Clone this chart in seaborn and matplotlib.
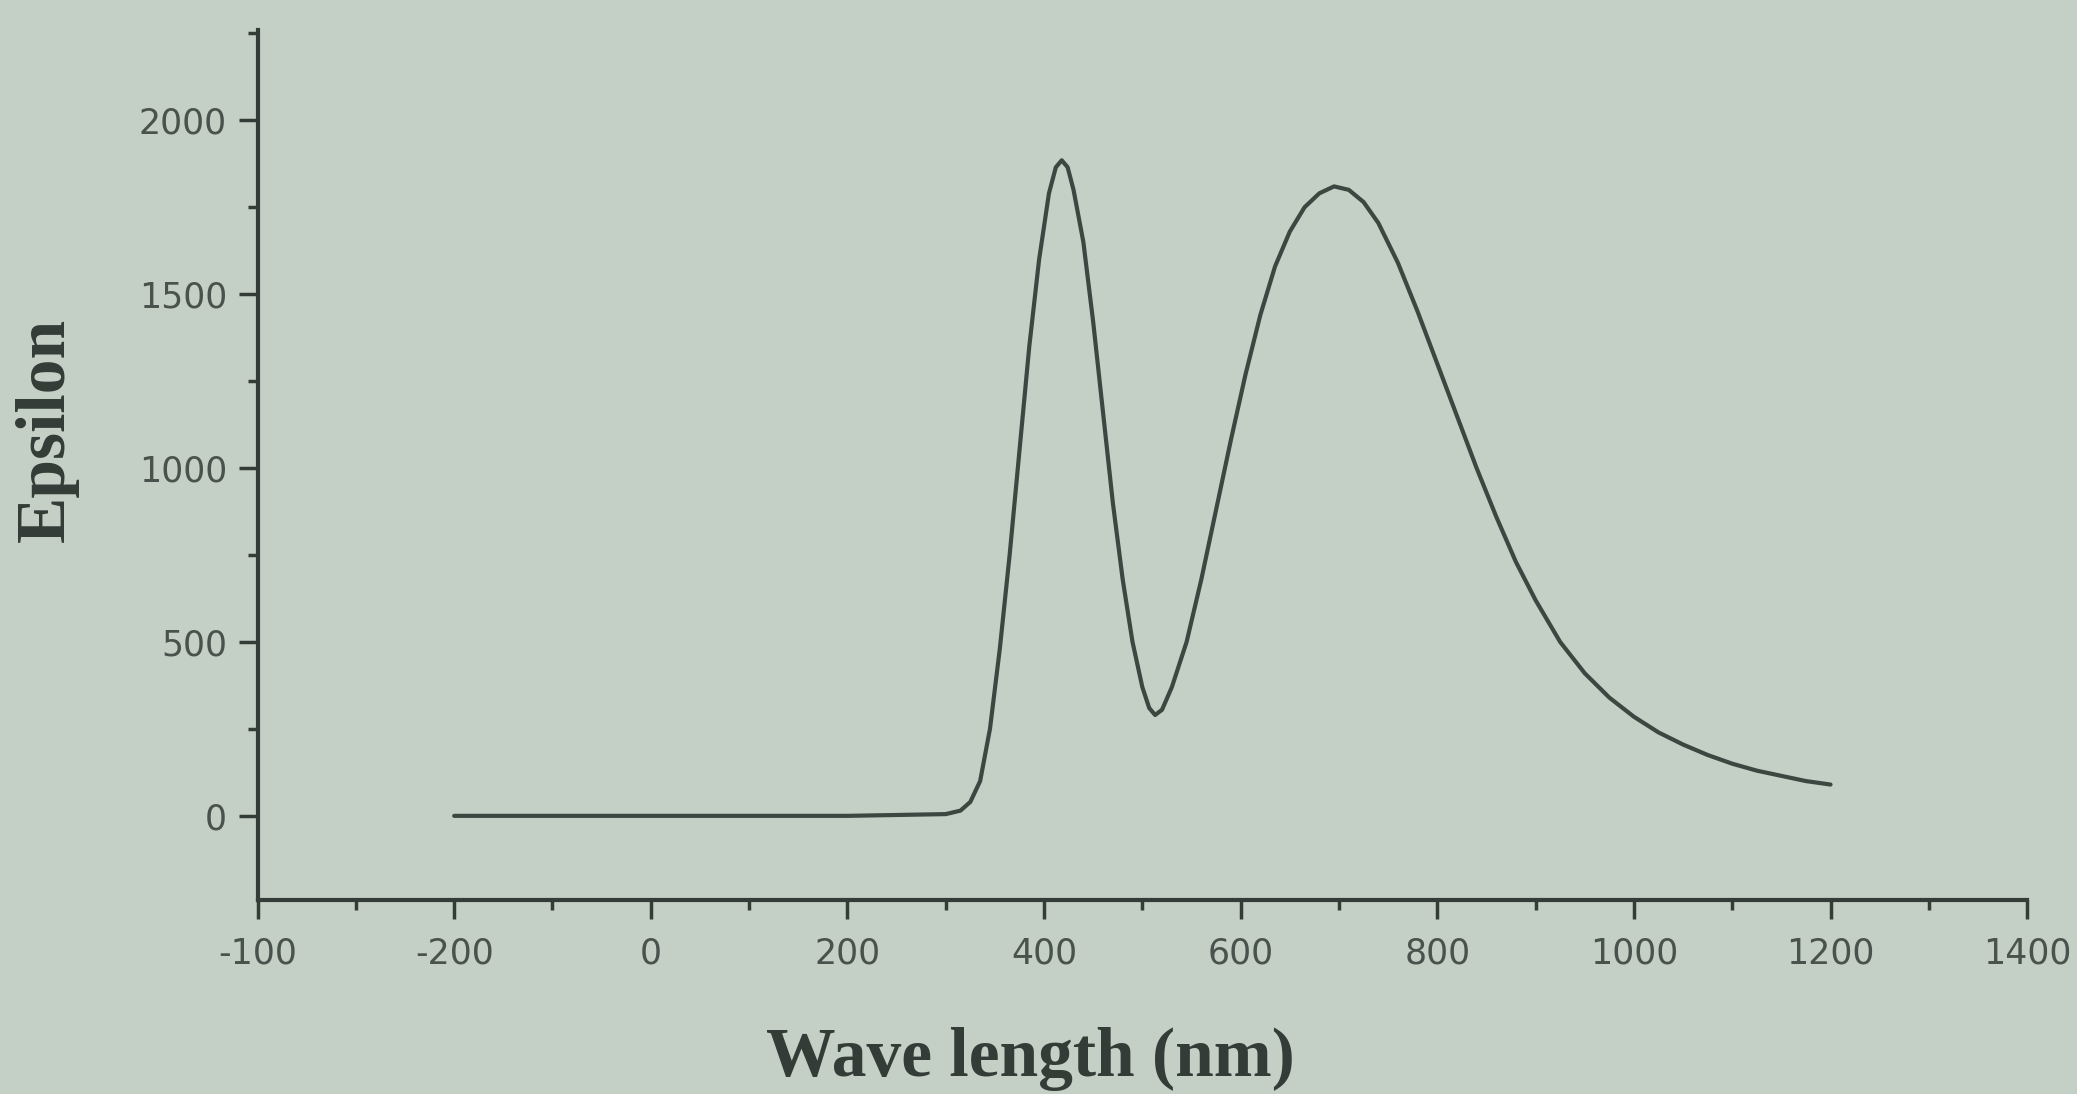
import numpy as np
import pandas as pd
import matplotlib
matplotlib.use("Agg")
import matplotlib.pyplot as plt
import seaborn as sns
from matplotlib.ticker import MultipleLocator, FixedLocator, FixedFormatter

# ---- data ----
wavelength = [-200, 0, 200, 300, 315, 325, 335, 345, 355, 365, 375, 385, 395, 405,
              412, 418, 424, 430, 440, 450, 460, 470, 480, 490, 500, 507, 513, 520,
              530, 545, 560, 575, 590, 605, 620, 635, 650, 665, 680, 695, 710, 725,
              740, 760, 780, 800, 820, 840, 860, 880, 900, 925, 950, 975, 1000, 1025,
              1050, 1075, 1100, 1125, 1150, 1175, 1200]
epsilon = [0, 0, 0, 5, 15, 40, 100, 250, 480, 750, 1050, 1350, 1600, 1790,
           1865, 1885, 1865, 1800, 1650, 1420, 1160, 900, 680, 500, 370, 310, 290, 305,
           370, 500, 680, 880, 1080, 1270, 1440, 1580, 1680, 1750, 1790, 1810, 1800, 1765,
           1705, 1590, 1450, 1300, 1150, 1000, 860, 730, 620, 500, 410, 340, 285, 240,
           205, 175, 150, 130, 115, 100, 90]

x_tick_values = [-400, -200, 0, 200, 400, 600, 800, 1000, 1200, 1400]
x_tick_labels = ["-100", "-200", "0", "200", "400", "600", "800", "1000", "1200", "1400"]
y_tick_values = [0, 500, 1000, 1500, 2000]
y_tick_labels = ["0", "500", "1000", "1500", "2000"]

x_label = "Wave length (nm)"
y_label = "Epsilon"

# ---- style ----
bg = "#c4cfc5"
ink = "#333c37"
sns.set_theme(style="ticks")
plt.rcParams["font.family"] = ["DejaVu Sans"]

fig = plt.figure(figsize=(20.77, 10.94), dpi=100, facecolor=bg)
ax = fig.add_axes([0.124, 0.177, 0.852, 0.796])
ax.set_facecolor(bg)

df = pd.DataFrame({"wavelength": wavelength, "epsilon": epsilon})
sns.lineplot(data=df, x="wavelength", y="epsilon", ax=ax, color="#3c4742",
             linewidth=3.0, estimator=None, sort=False)

ax.set_xlim(-400, 1400)
ax.set_ylim(-243, 2261)

ax.xaxis.set_major_locator(FixedLocator(x_tick_values))
ax.xaxis.set_major_formatter(FixedFormatter(x_tick_labels))
ax.xaxis.set_minor_locator(MultipleLocator(100))
ax.yaxis.set_major_locator(FixedLocator(y_tick_values))
ax.yaxis.set_major_formatter(FixedFormatter(y_tick_labels))
ax.yaxis.set_minor_locator(MultipleLocator(250))

for side in ["top", "right"]:
    ax.spines[side].set_visible(False)
for side in ["left", "bottom"]:
    ax.spines[side].set_color(ink)
    ax.spines[side].set_linewidth(3)

ax.tick_params(axis="both", which="major", length=14, width=2.5, color=ink,
               labelsize=25, labelcolor="#4a524d", pad=8)
ax.tick_params(axis="x", which="major", pad=12)
ax.tick_params(axis="both", which="minor", length=7, width=2.5, color=ink)

ax.set_xlabel(x_label, fontsize=50, fontweight="bold", family="Liberation Serif",
              color=ink, va="bottom")
ax.set_ylabel(y_label, fontsize=50, fontweight="bold", family="Liberation Serif",
              color=ink)
ax.xaxis.set_label_coords(0.437, -0.219)
ax.yaxis.set_label_coords(-0.101, 0.54)

fig.savefig("out.png", dpi=100, facecolor=bg)
